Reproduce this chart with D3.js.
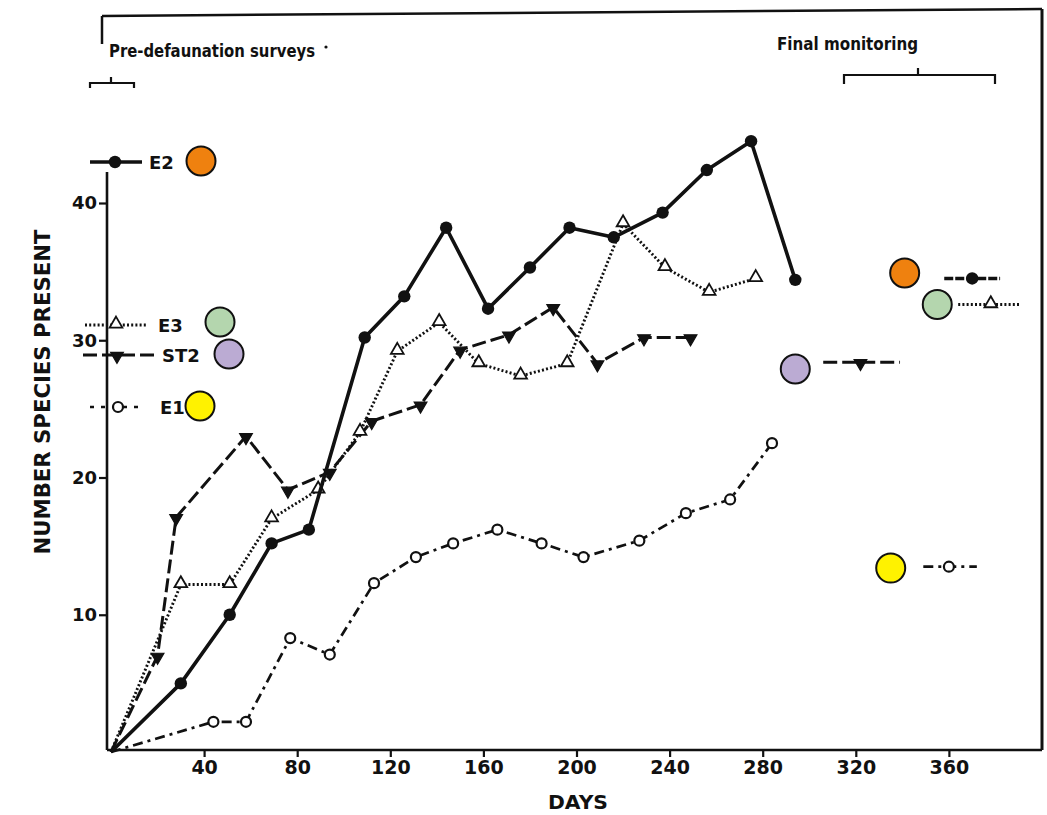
<!DOCTYPE html>
<html>
<head>
<meta charset="utf-8">
<script src="https://cdn.jsdelivr.net/npm/d3@7"></script>
<style>
  html, body { margin: 0; padding: 0; background: #fff; }
  svg { display: block; }
  text { font-family: "DejaVu Sans", sans-serif; fill: #111; font-weight: bold; }
</style>
</head>
<body>
<svg id="chart" width="1047" height="815"></svg>
<script>
// Colonization curves: number of species present vs. days since defaunation
const xTicks = [40, 80, 120, 160, 200, 240, 280, 320, 360];
const yTicks = [10, 20, 30, 40];

const e2Days   = [0, 30, 51, 69, 85, 109, 126, 144, 162, 180, 197, 216, 237, 256, 275, 294];
const e2Values = [0, 5, 10, 15.2, 16.2, 30.2, 33.2, 38.2, 32.3, 35.3, 38.2, 37.5, 39.3, 42.4, 44.5, 34.4];

const e3Days   = [0, 30, 51, 69, 89, 107, 123, 141, 158, 176, 196, 220, 238, 257, 277];
const e3Values = [0, 12.2, 12.2, 17, 19.1, 23.3, 29.2, 31.3, 28.3, 27.4, 28.3, 38.5, 35.3, 33.5, 34.5];

const st2Days   = [0, 20, 28, 58, 76, 94, 112, 133, 150, 171, 190, 209, 229, 249];
const st2Values = [0, 7, 17.1, 23, 19.1, 20.4, 24.1, 25.3, 29.3, 30.4, 32.4, 28.3, 30.2, 30.2];

const e1Days   = [0, 44, 58, 77, 94, 113, 131, 147, 166, 185, 203, 227, 247, 266, 284];
const e1Values = [0, 2.2, 2.2, 8.3, 7.1, 12.3, 14.2, 15.2, 16.2, 15.2, 14.2, 15.4, 17.4, 18.4, 22.5];

// Final monitoring: [first day, last day, plotted day, species]
const e2Final  = [358, 382, 370, 34.5];
const e3Final  = [364, 391, 378, 32.6];
const st2Final = [306, 339, 322, 28.4];
const e1Final  = [349, 372, 360, 13.5];

// Highlight dots placed beside the final-monitoring values: [day, species]
const e2Dot  = [341, 34.9];
const e3Dot  = [355, 32.6];
const st2Dot = [294, 27.9];
const e1Dot  = [335, 13.4];

const svg = d3.select("#chart");
const x = d3.scaleLinear().domain([0, 400]).range([111, 1042]);
const y = d3.scaleLinear().domain([0, 40]).range([752, 203]);

const zip = (a, b) => a.map((d, i) => [d, b[i]]);

const series = [
  { name: "E2",  pts: zip(e2Days, e2Values),   fin: e2Final,  dot: e2Dot,  color: "#EF810F",
    width: 3.6, dash: null,         marker: "dot" },
  { name: "E3",  pts: zip(e3Days, e3Values),   fin: e3Final,  dot: e3Dot,  color: "#B4D6AE",
    width: 2.9, dash: "2 2.2",      marker: "tri" },
  { name: "ST2", pts: zip(st2Days, st2Values), fin: st2Final, dot: st2Dot, color: "#BBABD3",
    width: 3.0, dash: "14 5",       marker: "tridown" },
  { name: "E1",  pts: zip(e1Days, e1Values),   fin: e1Final,  dot: e1Dot,  color: "#FFF200",
    width: 2.7, dash: "10 5 3 5",   marker: "ring" }
];

// frame
const frame = svg.append("g").attr("stroke", "#111").attr("fill", "none");
frame.append("line").attr("x1", 102).attr("y1", 16).attr("x2", 1042).attr("y2", 9).attr("stroke-width", 2.5);
frame.append("line").attr("x1", 102).attr("y1", 16).attr("x2", 102).attr("y2", 44).attr("stroke-width", 2.5);
frame.append("line").attr("x1", 1042).attr("y1", 9).attr("x2", 1042).attr("y2", 750).attr("stroke-width", 3);

// axes
const xAxis = d3.axisBottom(x).tickValues(xTicks).tickSize(7).tickPadding(4).tickFormat(d3.format("d"));
const gx = svg.append("g").attr("transform", "translate(0,750)").call(xAxis);
gx.select(".domain").attr("d", "M107,0H1042").attr("stroke", "#111").attr("stroke-width", 2.6);
gx.selectAll(".tick line").attr("stroke", "#111").attr("stroke-width", 2.2);
gx.selectAll(".tick text").attr("font-size", 19).attr("font-family", "DejaVu Sans").attr("font-weight", "bold").attr("fill", "#111");

const yAxis = d3.axisLeft(y).tickValues(yTicks).tickSize(8).tickPadding(2).tickFormat(d3.format("d"));
const gy = svg.append("g").attr("transform", "translate(107,0)").call(yAxis);
gy.select(".domain").attr("d", "M0,172V750").attr("stroke", "#111").attr("stroke-width", 2.6);
gy.selectAll(".tick line").attr("stroke", "#111").attr("stroke-width", 2.2);
gy.selectAll(".tick text").attr("font-size", 18).attr("font-family", "DejaVu Sans").attr("font-weight", "bold").attr("fill", "#111");

svg.append("text").attr("transform", "translate(50,392) rotate(-90)")
  .attr("text-anchor", "middle").attr("font-size", 21)
  .attr("textLength", 325).attr("lengthAdjust", "spacingAndGlyphs")
  .text("NUMBER SPECIES PRESENT");
svg.append("text").attr("x", 578).attr("y", 809).attr("text-anchor", "middle")
  .attr("font-size", 20).attr("textLength", 60).attr("lengthAdjust", "spacingAndGlyphs")
  .text("DAYS");

// survey period annotations
svg.append("text").attr("x", 109).attr("y", 57).attr("font-size", 17)
  .attr("textLength", 206).attr("lengthAdjust", "spacingAndGlyphs")
  .text("Pre-defaunation surveys");
svg.append("circle").attr("cx", 326).attr("cy", 47).attr("r", 1.6).attr("fill", "#111");
svg.append("path").attr("d", "M90,88V83H134V88M111,83V77")
  .attr("fill", "none").attr("stroke", "#111").attr("stroke-width", 2.2);

svg.append("text").attr("x", 777).attr("y", 50).attr("font-size", 17)
  .attr("textLength", 141).attr("lengthAdjust", "spacingAndGlyphs")
  .text("Final monitoring");
svg.append("path").attr("d", "M844,84V75H995V84M918,75V68")
  .attr("fill", "none").attr("stroke", "#111").attr("stroke-width", 2.2);

// marker drawing
const triUp = d3.symbol().type(d3.symbolTriangle).size(70);
function drawMarker(g, kind, cx, cy) {
  if (kind === "dot") {
    g.append("circle").attr("cx", cx).attr("cy", cy).attr("r", 6.2).attr("fill", "#111");
  } else if (kind === "ring") {
    g.append("circle").attr("cx", cx).attr("cy", cy).attr("r", 5).attr("fill", "#fff")
      .attr("stroke", "#111").attr("stroke-width", 2.2);
  } else if (kind === "tri") {
    g.append("path").attr("d", triUp()).attr("transform", `translate(${cx},${cy - 1})`)
      .attr("fill", "#fff").attr("stroke", "#111").attr("stroke-width", 1.8);
  } else {
    g.append("path").attr("d", triUp()).attr("transform", `translate(${cx},${cy + 1}) rotate(180)`)
      .attr("fill", "#111").attr("stroke", "#111").attr("stroke-width", 1.2);
  }
}

const line = d3.line().x(d => x(d[0])).y(d => y(d[1]));

// draw dashed series under the solid one
const order = ["E1", "ST2", "E3", "E2"];
order.forEach(name => {
  const s = series.find(d => d.name === name);
  const g = svg.append("g").attr("class", "series-" + name);
  g.append("path").datum(s.pts).attr("d", line)
    .attr("fill", "none").attr("stroke", "#111").attr("stroke-width", s.width)
    .attr("stroke-linejoin", "round")
    .attr("stroke-dasharray", s.dash);
  s.pts.slice(1).forEach(p => drawMarker(g, s.marker, x(p[0]), y(p[1])));

  // final monitoring value
  const fy = y(s.fin[3]);
  g.append("line").attr("x1", x(s.fin[0])).attr("x2", x(s.fin[1]))
    .attr("y1", fy).attr("y2", fy)
    .attr("stroke", "#111").attr("stroke-width", s.width)
    .attr("stroke-dasharray", s.dash === null ? "9 2" : s.dash);
  drawMarker(g, s.marker, x(s.fin[2]), fy);

  g.append("circle").attr("cx", x(s.dot[0])).attr("cy", y(s.dot[1])).attr("r", 14.5)
    .attr("fill", s.color).attr("stroke", "#111").attr("stroke-width", 2);
});

// legend along the left
const legendRows = [
  { name: "E2",  y: 162, x0: 90, x1: 142, mx: 115, tx: 149, cx: 201 },
  { name: "E3",  y: 325, x0: 85, x1: 148, mx: 116, tx: 158, cx: 220 },
  { name: "ST2", y: 355, x0: 83, x1: 154, mx: 117, tx: 162, cx: 229 },
  { name: "E1",  y: 407, x0: 90, x1: 143, mx: 118, tx: 160, cx: 200 }
];
legendRows.forEach(r => {
  const s = series.find(d => d.name === r.name);
  const g = svg.append("g").attr("class", "legend-" + r.name);
  g.append("line").attr("x1", r.x0).attr("x2", r.x1).attr("y1", r.y).attr("y2", r.y)
    .attr("stroke", "#111").attr("stroke-width", s.width)
    .attr("stroke-dasharray", s.dash === null ? null : (r.name === "E1" ? "4 7" : s.dash));
  drawMarker(g, s.marker, r.mx, r.y);
  g.append("text").attr("x", r.tx).attr("y", r.y + 7).attr("font-size", 18).text(r.name);
  g.append("circle").attr("cx", r.cx).attr("cy", r.y - (r.name === "E3" ? 3 : 1)).attr("r", 14.5)
    .attr("fill", s.color).attr("stroke", "#111").attr("stroke-width", 2);
});
</script>
</body>
</html>
